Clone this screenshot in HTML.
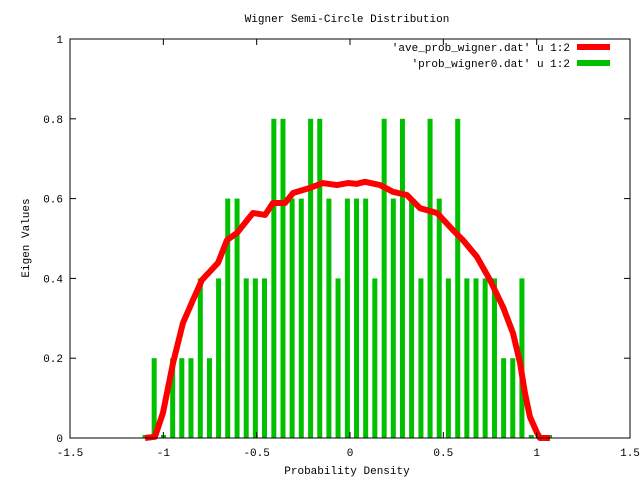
<!DOCTYPE html>
<html><head><meta charset="utf-8"><style>
body{margin:0;background:#fff}
svg text{font-family:"Liberation Mono",monospace;font-size:11px;fill:#000}
</style></head><body>
<svg id="c" width="640" height="480">
<rect x="0" y="0" width="640" height="480" fill="#fff"/>
</svg>
<script>
const xTicks=[-1.5,-1,-0.5,0,0.5,1,1.5];
const xTickLabels=["-1.5","-1","-0.5","0","0.5","1","1.5"];
const yTicks=[0,0.2,0.4,0.6,0.8,1];
const yTickLabels=["0","0.2","0.4","0.6","0.8","1"];
const barX=[-1.098,-1.049,-0.999,-0.950,-0.901,-0.852,-0.802,-0.753,-0.704,-0.655,-0.605,-0.556,-0.507,-0.458,-0.408,-0.359,-0.310,-0.261,-0.211,-0.162,-0.113,-0.064,-0.014,0.035,0.084,0.133,0.183,0.232,0.281,0.330,0.380,0.429,0.478,0.527,0.577,0.626,0.675,0.724,0.774,0.823,0.872,0.921,0.971,1.020,1.069];
const barY=[0,0.2,0,0.2,0.2,0.2,0.4,0.2,0.4,0.6,0.6,0.4,0.4,0.4,0.8,0.8,0.6,0.6,0.8,0.8,0.6,0.4,0.6,0.6,0.6,0.4,0.8,0.6,0.8,0.6,0.4,0.8,0.6,0.4,0.8,0.4,0.4,0.4,0.4,0.2,0.2,0.4,0,0,0];
const lineX=[-1.098,-1.045,-1.002,-0.948,-0.895,-0.841,-0.793,-0.707,-0.659,-0.605,-0.520,-0.455,-0.413,-0.348,-0.305,-0.214,-0.145,-0.070,-0.011,0.037,0.080,0.161,0.230,0.305,0.375,0.466,0.552,0.605,0.680,0.750,0.820,0.873,0.911,0.937,0.964,1.002,1.018,1.071];
const lineY=[0,0.003,0.063,0.188,0.288,0.346,0.396,0.439,0.496,0.514,0.564,0.559,0.589,0.589,0.614,0.627,0.639,0.634,0.639,0.637,0.642,0.634,0.617,0.609,0.576,0.564,0.521,0.496,0.454,0.396,0.328,0.263,0.188,0.113,0.053,0.013,0,0];
const L=70,R=630,T=39,B=438;
const sx=v=>L+(v+1.5)/3*(R-L), sy=v=>B-v*(B-T);
const svg=document.getElementById('c'),NS='http://www.w3.org/2000/svg';
function mk(t,a,p){const e=document.createElementNS(NS,t);for(const k in a)e.setAttribute(k,a[k]);(p||svg).appendChild(e);return e;}
// bars
const gb=mk('g',{});


barX.forEach((x,i)=>{const h=Math.max(barY[i]*(B-T),3);
const r=mk('rect',{x:sx(x)-2.5,y:B-h,width:5,height:h,fill:'#00c000'},gb);

});
// line
const pl=mk('polyline',{points:lineX.map((x,i)=>sx(x)+','+sy(lineY[i])).join(' '),fill:'none',stroke:'#ff0000','stroke-width':6,'stroke-linejoin':'round'});


// frame
const fr=mk('rect',{x:L,y:T,width:R-L,height:B-T,fill:'none',stroke:'#000','stroke-width':1});


xTicks.forEach((v,i)=>{const x=sx(v);
mk('line',{x1:x,y1:B,x2:x,y2:B-6,stroke:'#000'});mk('line',{x1:x,y1:T,x2:x,y2:T+6,stroke:'#000'});
const t=mk('text',{x:x,y:456,'text-anchor':'middle'});t.textContent=xTickLabels[i];

});
yTicks.forEach((v,i)=>{const y=sy(v);
mk('line',{x1:L,y1:y,x2:L+6,y2:y,stroke:'#000'});mk('line',{x1:R,y1:y,x2:R-6,y2:y,stroke:'#000'});
const t=mk('text',{x:63,y:y+4,'text-anchor':'end'});t.textContent=yTickLabels[i];

});
</script>
<svg width="640" height="480" style="position:absolute;left:0;top:0">
<text x="347" y="22" text-anchor="middle" style="font-family:'Liberation Mono',monospace;font-size:11px">Wigner Semi-Circle Distribution</text>
<text x="347" y="474" text-anchor="middle" style="font-family:'Liberation Mono',monospace;font-size:11px">Probability Density</text>
<text transform="translate(29,238) rotate(-90)" text-anchor="middle" style="font-family:'Liberation Mono',monospace;font-size:11px">Eigen Values</text>
<g>
<text x="570" y="51" text-anchor="end" style="font-family:'Liberation Mono',monospace;font-size:11px">'ave_prob_wigner.dat' u 1:2</text>
<line x1="577" y1="47" x2="610" y2="47" stroke="#ff0000" stroke-width="6"/>
<text x="570" y="67" text-anchor="end" style="font-family:'Liberation Mono',monospace;font-size:11px">'prob_wigner0.dat' u 1:2</text>
<line x1="577" y1="63" x2="610" y2="63" stroke="#00c000" stroke-width="6"/>
</g>
</svg>
</body></html>
